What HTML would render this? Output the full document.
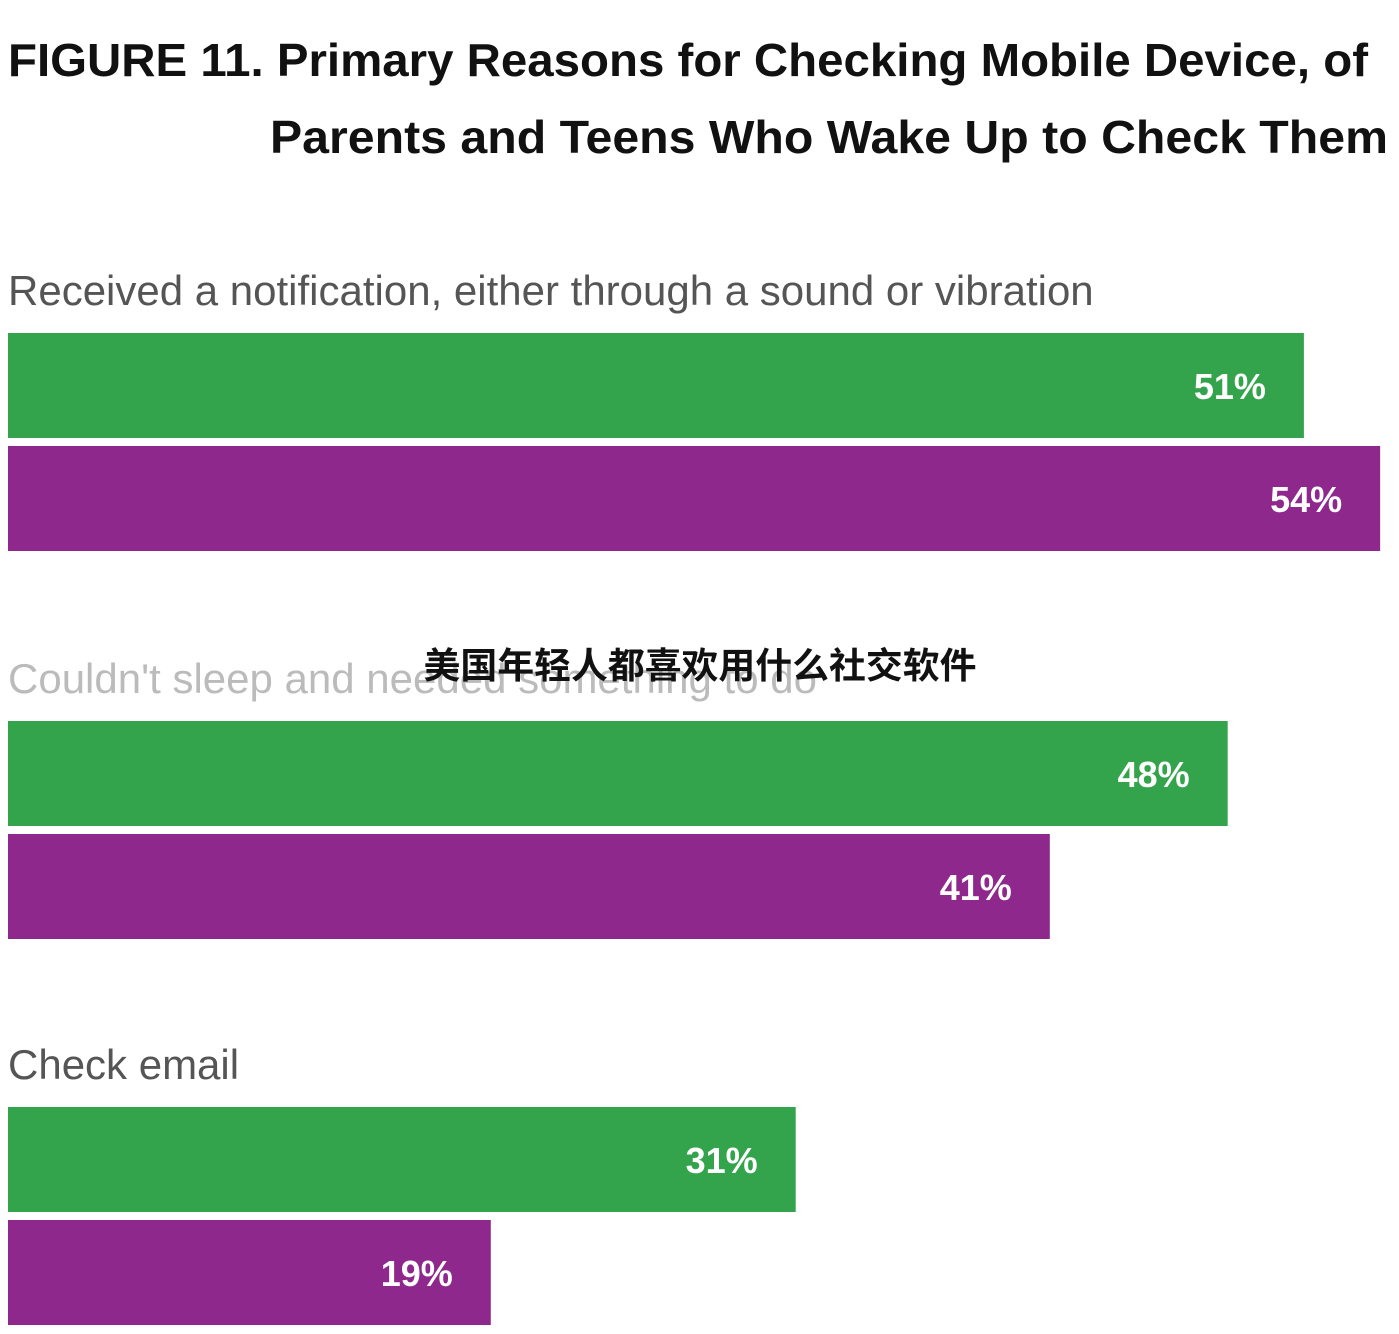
<!DOCTYPE html>
<html><head><meta charset="utf-8"><style>
html,body{margin:0;padding:0;background:#fff;width:1399px;height:1334px;overflow:hidden}
svg{display:block}
</style></head><body>
<svg id="chart" width="1399" height="1334" font-family="'Liberation Sans', sans-serif">
<text x="8" y="76" font-size="46" font-weight="bold" fill="#111" textLength="1360" lengthAdjust="spacingAndGlyphs">FIGURE 11. Primary Reasons for Checking Mobile Device, of</text>
<text x="270" y="153" font-size="46" font-weight="bold" fill="#111" textLength="1118" lengthAdjust="spacingAndGlyphs">Parents and Teens Who Wake Up to Check Them</text>
<g id="bars"></g>
<text x="700" y="678" text-anchor="middle" font-size="36" font-weight="bold" fill="#111" font-family="'Liberation Sans','Noto Sans CJK SC',sans-serif" textLength="553" lengthAdjust="spacingAndGlyphs">美国年轻人都喜欢用什么社交软件</text>
</svg>
<script>
const categories = ["Received a notification, either through a sound or vibration","Couldn't sleep and needed something to do","Check email"];
const parentValues = [51,48,31];
const teenValues = [54,41,19];
const labelColors = ["#555","#bbb","#555"];
const x0 = 8, pxPerPct = 25.41;
const xScale = v => v * pxPerPct;
const groupTop = [333, 721, 1107];
const g = document.getElementById('bars');
const NS = 'http://www.w3.org/2000/svg';
function mk(tag, attrs){const e=document.createElementNS(NS,tag);for(const k in attrs)e.setAttribute(k,attrs[k]);return e;}
categories.forEach((c,i)=>{
  const t = mk('text',{x:8,y:groupTop[i]-28,'font-size':42,fill:labelColors[i]});
  t.textContent = c;
  
  
  g.appendChild(t);
  [[parentValues[i],'#34a44c',0,'parent'],[teenValues[i],'#8e288c',113,'teen']].forEach(([v,col,off,who])=>{
    const w = xScale(v);
    const r = mk('rect',{x:x0,y:groupTop[i]+off,width:w,height:105,fill:col});
    
    
    g.appendChild(r);
    const l = mk('text',{x:x0+w-38,y:groupTop[i]+off+66,'text-anchor':'end','font-size':36,'font-weight':'bold',fill:'#fff'});
    l.textContent = v+'%';
    
    
    g.appendChild(l);
  });
});
</script>
</body></html>
